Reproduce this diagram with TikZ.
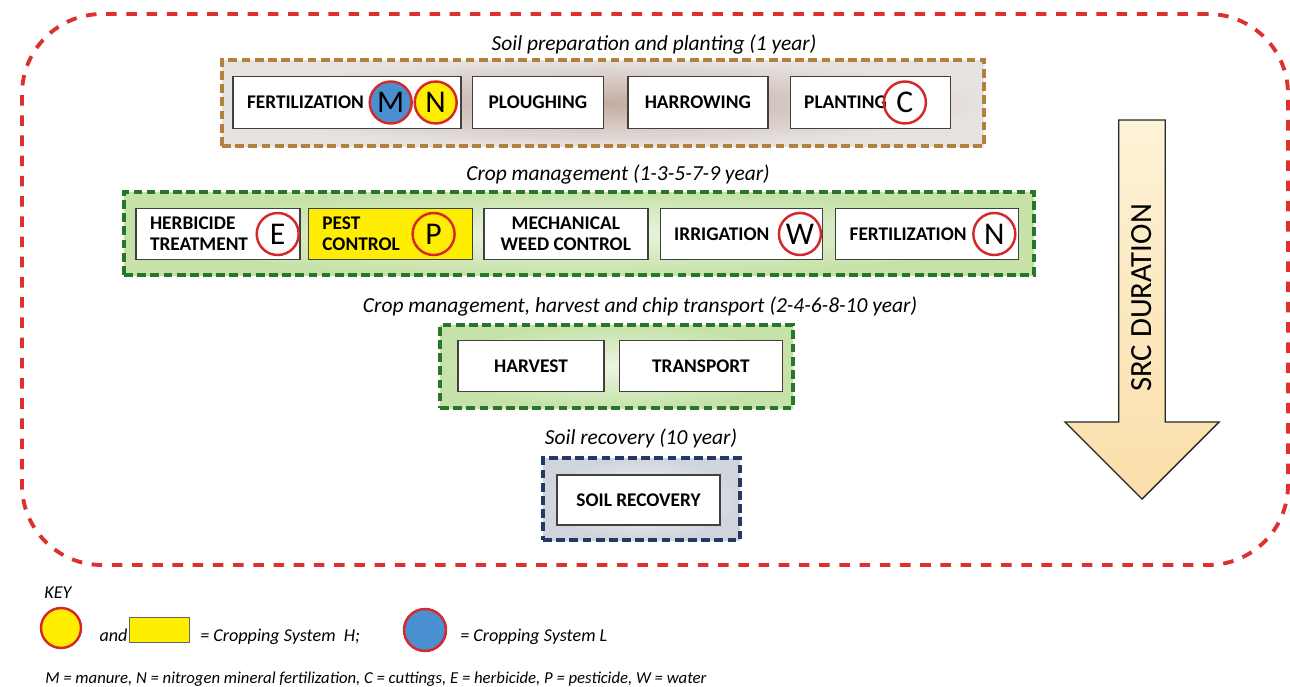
\documentclass[tikz,border=0pt]{standalone}
\usepackage{fontspec}
\setmainfont{Carlito}
\usetikzlibrary{shapes.arrows, positioning}

\definecolor{dashred}{RGB}{222,48,44}
\definecolor{dashbrown}{RGB}{180,128,62}
\definecolor{dashgreen}{RGB}{40,118,44}
\definecolor{dashblue}{RGB}{34,58,100}
\definecolor{circred}{RGB}{214,40,40}
\definecolor{circyellow}{RGB}{255,238,0}
\definecolor{circblue}{RGB}{74,144,208}

\begin{document}
\begin{tikzpicture}[
		taskbox/.style={rectangle,draw=black!75,fill=white,line width=0.8pt,minimum height=1.03cm,inner xsep=0.28cm,inner ysep=0pt,font=\fontsize{11}{12}\selectfont\bfseries},
		leftbox/.style={taskbox,align=left},
		midbox/.style={taskbox,align=center},
		tagcirc/.style={circle,draw=circred,line width=1.4pt,minimum size=0.84cm,inner sep=0pt,font=\fontsize{18}{18}\selectfont},
		groupbox/.style={rectangle,line width=2pt,dash pattern=on 5pt off 2.5pt},
		heading/.style={font=\fontsize{12.2}{13}\selectfont\itshape},
		keytext/.style={font=\fontsize{10.3}{11}\selectfont\itshape,inner sep=0pt}
		]

		\useasboundingbox (0,0) rectangle (25.8,-13.74);
		\node[draw=dashred, line width=2.2pt, dash pattern=on 6pt off 5.5pt, rounded corners=1.6cm,
		minimum width=25.32cm, minimum height=11.02cm](O1) at (13.1,-5.79){};

		\node[heading](T1) at (13.08,-0.9){Soil preparation and planting (1 year)};
		\node[groupbox, draw=dashbrown, inner color={rgb,255:red,196;green,172;blue,162}, outer color={rgb,255:red,230;green,226;blue,224},
		minimum width=15.24cm, minimum height=1.72cm](G1) at (12.06,-2.06){};
		\node[leftbox, text width=4.0cm](B1) at (6.94,-2.05){FERTILIZATION};
		\node[midbox, minimum width=2.62cm, right = 0.2cm of B1](B2){PLOUGHING};
		\node[midbox, minimum width=2.8cm, right = 0.46cm of B2](B3){HARROWING};
		\node[leftbox, text width=2.64cm, right = 0.42cm of B3](B4){PLANTING};
		\node[tagcirc, fill=circblue](M1) at ([xshift=-1.42cm]B1.east){M};
		\node[tagcirc, fill=circyellow](N1) at ([xshift=-0.52cm]B1.east){N};
		\node[tagcirc](C1) at ([xshift=-0.92cm]B4.east){C};

		\node[heading](T2) at (12.36,-3.5){Crop management (1-3-5-7-9 year)};
		\node[groupbox, draw=dashgreen, inner color={rgb,255:red,236;green,245;blue,226}, outer color={rgb,255:red,198;green,226;blue,168},
		minimum width=18.2cm, minimum height=1.66cm](G2) at (11.58,-4.67){};
		\node[leftbox, text width=2.72cm](P1) at (4.36,-4.68){HERBICIDE\\TREATMENT};
		\node[leftbox, fill=circyellow, text width=2.72cm, right = 0.14cm of P1](P2){PEST\\CONTROL};
		\node[midbox, minimum width=3.28cm, right = 0.2cm of P2](P3){MECHANICAL\\WEED CONTROL};
		\node[leftbox, text width=2.68cm, right = 0.22cm of P3](P4){IRRIGATION};
		\node[leftbox, text width=3.1cm, right = 0.24cm of P4](P5){FERTILIZATION};
		\node[tagcirc](E1) at ([xshift=-0.46cm]P1.east){E};
		\node[tagcirc](Q1) at ([xshift=-0.79cm]P2.east){P};
		\node[tagcirc](W1) at ([xshift=-0.46cm]P4.east){W};
		\node[tagcirc](N2) at ([xshift=-0.5cm]P5.east){N};

		\node[heading](T3) at (12.8,-6.14){Crop management, harvest and chip transport (2-4-6-8-10 year)};
		\node[groupbox, draw=dashgreen, inner color={rgb,255:red,236;green,245;blue,226}, outer color={rgb,255:red,198;green,226;blue,168},
		minimum width=7.06cm, minimum height=1.66cm](G3) at (12.33,-7.33){};
		\node[midbox, minimum width=2.92cm](H1) at (10.62,-7.32){HARVEST};
		\node[midbox, minimum width=3.26cm, right = 0.28cm of H1](H2){TRANSPORT};

		\node[heading](T4) at (12.82,-8.76){Soil recovery (10 year)};
		\node[groupbox, draw=dashblue, inner color={rgb,255:red,246;green,246;blue,248}, outer color={rgb,255:red,208;green,212;blue,220},
		minimum width=3.94cm, minimum height=1.64cm](G4) at (12.83,-9.98){};
		\node[midbox, minimum width=3.26cm, minimum height=1.0cm](R1) at (12.77,-10.0){SOIL RECOVERY};

		\node[single arrow, draw=black!85, line width=0.8pt, rotate=90, shape border rotate=180,
		minimum height=7.58cm, minimum width=3.08cm, single arrow head extend=0.77cm,
		top color={rgb,255:red,253;green,243;blue,214}, middle color={rgb,255:red,247;green,188;blue,140}, bottom color={rgb,255:red,251;green,222;blue,170},
		font=\fontsize{17.5}{17.5}\selectfont, anchor=tip](A1) at (22.84,-10.0){SRC DURATION};

		\node[keytext, anchor=base](K0) at (1.16,-11.96){KEY};
		\node[tagcirc, fill=circyellow, minimum size=0.8cm](K1) at (1.22,-12.56){};
		\node[keytext, anchor=base](K2) at (2.27,-12.82){and};
		\node[rectangle, draw=black!60, fill=circyellow, minimum width=1.2cm, minimum height=0.5cm](K3) at (3.18,-12.59){};
		\node[keytext, anchor=base west](K4) at (4.0,-12.82){= Cropping System \ H;};
		\node[tagcirc, fill=circblue, minimum size=0.84cm](K5) at (8.5,-12.6){};
		\node[keytext, anchor=base west](K6) at (9.2,-12.82){= Cropping System L};
		\node[keytext, font=\fontsize{9.5}{10}\selectfont\itshape, anchor=base west](K7) at (0.9,-13.66){M = manure, N = nitrogen mineral fertilization, C = cuttings, E = herbicide, P = pesticide, W = water};
	\end{tikzpicture}
\end{document}
